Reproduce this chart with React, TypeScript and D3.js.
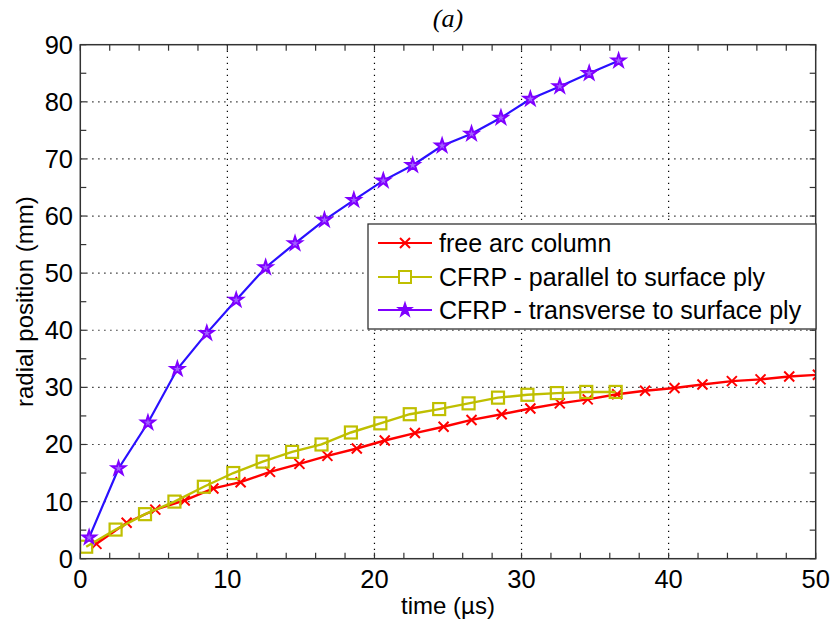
import React from "react";
import * as d3 from "d3";

const xTicks = [0, 10, 20, 30, 40, 50];
const yTicks = [0, 10, 20, 30, 40, 50, 60, 70, 80, 90];

const freeX = [1.1, 3.15, 5.1, 7.1, 9.05, 10.9, 12.9, 14.9, 16.8, 18.8, 20.7, 22.75, 24.7, 26.6, 28.65, 30.6, 32.6, 34.5, 36.5, 38.4, 40.4, 42.3, 44.3, 46.25, 48.2, 50.15];
const freeY = [2.6, 6.3, 8.6, 10.2, 12.3, 13.4, 15.2, 16.6, 18.0, 19.3, 20.7, 22.0, 23.1, 24.3, 25.3, 26.3, 27.2, 27.9, 28.8, 29.4, 29.9, 30.5, 31.1, 31.4, 31.9, 32.2];

const parX = [0.4, 2.4, 4.4, 6.4, 8.4, 10.4, 12.4, 14.4, 16.4, 18.4, 20.4, 22.4, 24.4, 26.4, 28.4, 30.4, 32.4, 34.4, 36.4];
const parY = [2.1, 5.1, 7.8, 10.0, 12.6, 15.0, 17.0, 18.7, 20.0, 22.1, 23.7, 25.3, 26.2, 27.2, 28.2, 28.7, 29.0, 29.2, 29.2];

const trX = [0.6, 2.6, 4.6, 6.6, 8.6, 10.6, 12.6, 14.6, 16.6, 18.6, 20.6, 22.6, 24.6, 26.6, 28.6, 30.6, 32.6, 34.6, 36.6];
const trY = [3.7, 15.8, 23.8, 33.2, 39.5, 45.3, 51.0, 55.2, 59.3, 62.8, 66.2, 68.9, 72.3, 74.4, 77.2, 80.5, 82.7, 85.0, 87.2];

const legendLabels = ["free arc column", "CFRP - parallel to surface ply", "CFRP - transverse to surface ply"];

const W = 831, H = 623;
const L = 80.3, R = 815.7, T = 44.7, B = 558.7;

const RED = "#ff0000";
const YEL = "#bfbf00";
const PUR = "#7f00ff";
const BLU = "#2a10ff";

const font = "'Liberation Sans', Arial, sans-serif";

function xMarker(cx: number, cy: number, s: number) {
  return `M${cx - s},${cy - s}L${cx + s},${cy + s}M${cx - s},${cy + s}L${cx + s},${cy - s}`;
}

export default function App() {
  const x = d3.scaleLinear().domain([0, 50]).range([L, R]);
  const y = d3.scaleLinear().domain([0, 90]).range([B, T]);
  const line = d3.line<[number, number]>().x(d => x(d[0])).y(d => y(d[1]));
  const free: [number, number][] = freeX.map((v, i) => [v, freeY[i]]);
  const par: [number, number][] = parX.map((v, i) => [v, parY[i]]);
  const tr: [number, number][] = trX.map((v, i) => [v, trY[i]]);
  const star = d3.symbol().type(d3.symbolStar).size(55);
  const xMinor = d3.range(0, 50.01, 2);
  const yMinor = d3.range(0, 90.01, 5);

  const legX = 368, legY = 224, legW = 448, legH = 105;
  const rows = [243, 277, 310];

  return (
    <svg width={W} height={H} style={{ position: "absolute", left: 0, top: 0, background: "#fff" }}>
      <defs>
        <clipPath id="clip">
          <rect x={L} y={T} width={R - L} height={B - T} />
        </clipPath>
      </defs>
      <rect x={0} y={0} width={W} height={H} fill="#fff" />
      {xTicks.slice(1, -1).map(t => (
        <line key={"gx" + t} x1={x(t)} x2={x(t)} y1={T} y2={B} stroke="#000" strokeWidth={1.2} strokeDasharray="1.2,4.8" />
      ))}
      {yTicks.slice(1, -1).map(t => (
        <line key={"gy" + t} x1={L} x2={R} y1={y(t)} y2={y(t)} stroke="#000" strokeWidth={1.2} strokeDasharray="1.2,4.8" />
      ))}
      {xMinor.map(t => (
        <g key={"tx" + t}>
          <line x1={x(t)} x2={x(t)} y1={B} y2={B - 6} stroke="#333" strokeWidth={1.2} />
          <line x1={x(t)} x2={x(t)} y1={T} y2={T + 6} stroke="#333" strokeWidth={1.2} />
        </g>
      ))}
      {yMinor.map(t => (
        <g key={"ty" + t}>
          <line x1={L} x2={L + 6} y1={y(t)} y2={y(t)} stroke="#333" strokeWidth={1.2} />
          <line x1={R} x2={R - 6} y1={y(t)} y2={y(t)} stroke="#333" strokeWidth={1.2} />
        </g>
      ))}
      <g clipPath="url(#clip)">
        <path d={line(free) || ""} fill="none" stroke={RED} strokeWidth={2.4} />
        {free.map((d, i) => (
          <path key={"fm" + i} d={xMarker(x(d[0]), y(d[1]), 5)} stroke={RED} strokeWidth={2} />
        ))}
        <path d={line(par) || ""} fill="none" stroke={YEL} strokeWidth={2.4} />
        {par.map((d, i) => (
          <rect key={"pm" + i} x={x(d[0]) - 6} y={y(d[1]) - 6} width={12} height={12} fill="none" stroke={YEL} strokeWidth={2.2} />
        ))}
        <path d={line(tr) || ""} fill="none" stroke={BLU} strokeWidth={2.2} />
        {tr.map((d, i) => (
          <path key={"tm" + i} d={star() || ""} transform={`translate(${x(d[0])},${y(d[1])})`} fill="#a060ff" stroke={PUR} strokeWidth={2} />
        ))}
      </g>
      <rect x={L} y={T} width={R - L} height={B - T} fill="none" stroke="#333" strokeWidth={1.5} />
      {xTicks.map(t => (
        <text key={"xl" + t} x={x(t)} y={588} textAnchor="middle" fontFamily={font} fontSize={25.5} fill="#000">{t}</text>
      ))}
      {yTicks.map(t => (
        <text key={"yl" + t} x={73} y={y(t) + 9} textAnchor="end" fontFamily={font} fontSize={25.5} fill="#000">{t}</text>
      ))}
      <text x={(L + R) / 2} y={614} textAnchor="middle" fontFamily={font} fontSize={24} fill="#000">time (µs)</text>
      <text transform={`translate(33,${(T + B) / 2}) rotate(-90)`} textAnchor="middle" fontFamily={font} fontSize={24} fill="#000">radial position (mm)</text>
      <text x={(L + R) / 2} y={27} textAnchor="middle" fontFamily="'Liberation Serif', 'Times New Roman', serif" fontStyle="italic" fontSize={26} fill="#000">(a)</text>
      <rect x={legX} y={legY} width={legW} height={legH} fill="#fff" stroke="#333" strokeWidth={1.3} />
      <line x1={378} x2={432} y1={rows[0]} y2={rows[0]} stroke={RED} strokeWidth={2.2} />
      <path d={xMarker(405, rows[0], 5)} stroke={RED} strokeWidth={2} />
      <line x1={378} x2={432} y1={rows[1]} y2={rows[1]} stroke={YEL} strokeWidth={2.2} />
      <rect x={399} y={rows[1] - 6} width={12} height={12} fill="#fff" stroke={YEL} strokeWidth={2} />
      <line x1={378} x2={432} y1={rows[2]} y2={rows[2]} stroke={PUR} strokeWidth={2.2} />
      <path d={star() || ""} transform={`translate(405,${rows[2]})`} fill={PUR} stroke={PUR} strokeWidth={1.5} />
      {legendLabels.map((s, i) => (
        <text key={"lg" + i} x={439} y={rows[i] + 8.5} fontFamily={font} fontSize={25} fill="#000">{s}</text>
      ))}
    </svg>
  );
}
